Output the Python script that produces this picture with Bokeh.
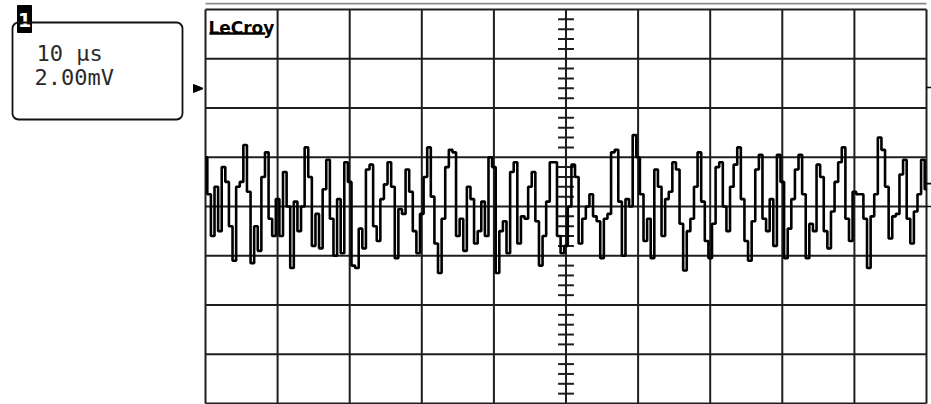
import numpy as np
from bokeh.plotting import figure
from bokeh.layouts import row
from bokeh.models import Range1d, Label, BoxAnnotation
from bokeh.core.properties import value
from bokeh.embed import file_html
from bokeh.resources import INLINE

# Time base: 10 us/div, 10 divisions; vertical: 2.00 mV/div, 8 divisions
time_per_div = 10.0   # us
volt_per_div = 2.0    # mV
sample_step = 0.5     # us

# Trace values (mV), one every 0.5 us from 0 to 100 us
trace_mv = [
    2.0, 0.5, -1.2, 0.8, -1.0, 1.6, 1.0, -0.8, -2.2, 0.8, 1.0, 2.5, 0.6, -2.3, -0.8, -1.8, 1.2, 2.2, -0.5, -1.2,
    0.3, -1.2, 1.4, 0.0, -2.5, 0.2, -1.0, 0.0, 2.4, 1.2, -1.6, -0.3, -1.7, 0.7, 1.9, -0.5, -2.0, 0.3, -1.9, 1.8,
    1.0, -2.4, -2.5, -0.9, -1.7, 1.5, 1.7, -0.8, -1.4, 0.3, 0.9, 1.8, 0.8, -2.1, -0.1, -0.3, 1.5, 0.6, -1.0, -1.9,
    -0.3, 1.2, 2.4, 0.4, -1.5, -2.7, -0.5, 1.6, 2.3, 2.2, -1.2, -0.5, -1.8, 0.8, 0.3, -1.5, -1.0, 0.2, -1.2, 2.0,
    1.6, -2.7, -1.0, -0.6, -1.9, 1.4, 1.8, -1.5, -0.4, -0.5, 0.8, 1.4, -0.6, -2.4, -1.2, 0.2, 1.8, 1.8, -1.2, -1.9,
    -1.6, 0.0, 1.7, 1.2, -1.5, -0.5, 0.0, 0.5, -0.4, -0.6, -2.1, -0.5, -0.3, 2.2, 2.3, 0.2, -2.0, 0.3, 0.0, 2.9,
    2.0, 0.5, -1.4, -0.5, -2.1, 1.5, 0.8, -1.2, 0.3, 0.6, 1.8, 1.5, -0.7, -2.6, -1.0, -0.5, 0.8, 2.2, 0.2, -1.4,
    -2.1, -0.7, 1.6, 1.8, 0.0, -1.0, 0.8, 1.7, 2.4, 0.3, -1.4, -2.2, -0.6, 1.5, 2.1, -0.5, -1.0, 0.3, -1.6, 2.1,
    1.0, -2.1, -0.9, 0.3, 1.5, 2.1, 0.5, -2.1, -0.7, -1.0, 1.7, 1.2, -1.0, -1.7, -0.2, 1.0, 1.8, 2.4, -0.5, -1.4,
    0.6, 0.5, 0.5, -0.5, -2.5, -0.4, 0.5, 2.8, 2.3, 0.8, -1.3, -0.4, -0.3, 1.3, 1.9, -0.5, -1.5, -0.2, 0.5, 1.9, 0.7,
]
time_us = [i * sample_step for i in range(len(trace_mv))]

# markers on the right edge of the screen (mV)
edge_marks_mv = [4.83, 0.93, 0.0]

channel_label = "1"
timebase_text = "10 µs"
volts_text = "2.00mV"
brand_text = "LeCroy"

GRID = "#1e1e1e"
H = 404

# ---------------- left info panel (page pixel coordinates) ----------------
left = figure(width=203, height=H, x_range=Range1d(0, 203), y_range=Range1d(H, 0),
              output_backend="svg", toolbar_location=None,
              x_axis_location=None, y_axis_location=None,
              min_border=0, outline_line_color=None)
left.xgrid.visible = False
left.ygrid.visible = False
left.add_layout(BoxAnnotation(left=12, right=182, top=22, bottom=119,
                              fill_alpha=0, line_color="#111111", line_alpha=1.0,
                              line_width=1.8, border_radius=6))
left.quad(left=[17], right=[31], top=[5], bottom=[32], color="black")
left.text(x=[24], y=[19], text=[channel_label], text_color="white",
          text_font=value("DejaVu Sans"), text_font_style="bold",
          text_font_size="19px", text_align="center", text_baseline="middle")
left.text(x=[36, 34], y=[53, 77], text=[timebase_text, volts_text],
          text_font=value("DejaVu Sans Mono"), text_font_size="22px",
          text_baseline="alphabetic", text_color="#2a2a2a")
left.patch(x=[193, 203, 193], y=[84, 88, 92], color="black")

# ---------------- scope screen ----------------
# frame covers the whole canvas; screen grid spans 0..100 us and -8..8 mV
px_per_us = 7.21
px_per_mv = 24.625
x0_px = 2.0      # canvas px left of t=0
x1_px = 5.0      # canvas px right of t=100
top_px = 206.0   # canvas px from top to 0 mV
p = figure(width=728, height=H,
           x_range=Range1d(-x0_px / px_per_us, 10 * time_per_div + x1_px / px_per_us),
           y_range=Range1d(-(H - top_px) / px_per_mv, top_px / px_per_mv),
           output_backend="svg", toolbar_location=None,
           x_axis_location=None, y_axis_location=None,
           min_border=0, outline_line_color=None)
p.xgrid.visible = False
p.ygrid.visible = False

tmax = 10 * time_per_div
vmax = 4 * volt_per_div
vx = [time_per_div * k for k in range(0, 11)]
hy = [volt_per_div * k for k in range(-4, 5)]
p.segment(x0=vx, x1=vx, y0=[-vmax] * len(vx), y1=[vmax] * len(vx), line_color=GRID, line_width=2)
p.segment(x0=[0] * len(hy), x1=[tmax] * len(hy), y0=hy, y1=hy, line_color=GRID, line_width=2)

# gray rule above the screen
p.segment(x0=[0], x1=[tmax], y0=[vmax + 0.24], y1=[vmax + 0.24], line_color="#8a8a8a", line_width=1.6)

# minor ticks on the vertical centre line
minor = np.arange(-vmax, vmax + 1e-9, volt_per_div / 5)
minor = [m for m in minor if abs(m / volt_per_div - round(m / volt_per_div)) > 1e-6]
cx = 5 * time_per_div
half_w = 0.11 * time_per_div
p.segment(x0=[cx - half_w] * len(minor), x1=[cx + half_w] * len(minor), y0=minor, y1=minor,
          line_color=GRID, line_width=2)

# right-edge markers
p.segment(x0=[tmax] * 3, x1=[tmax + 0.65] * 3, y0=edge_marks_mv, y1=edge_marks_mv,
          line_color="black", line_width=1.6)

# trace
p.step(time_us, trace_mv, mode="center", line_color="black", line_width=2.6)

# brand
p.add_layout(Label(x=0.4, y=7.23, text=brand_text, text_font="DejaVu Sans",
                   text_font_style="bold", text_font_size="17px", text_color="black",
                   text_baseline="alphabetic"))
p.segment(x0=[0.55], x1=[8.3], y0=[7.03], y1=[7.03], line_color="black", line_width=2.5)

layout = row(left, p)
open("out.html", "w").write(file_html(layout, INLINE))
